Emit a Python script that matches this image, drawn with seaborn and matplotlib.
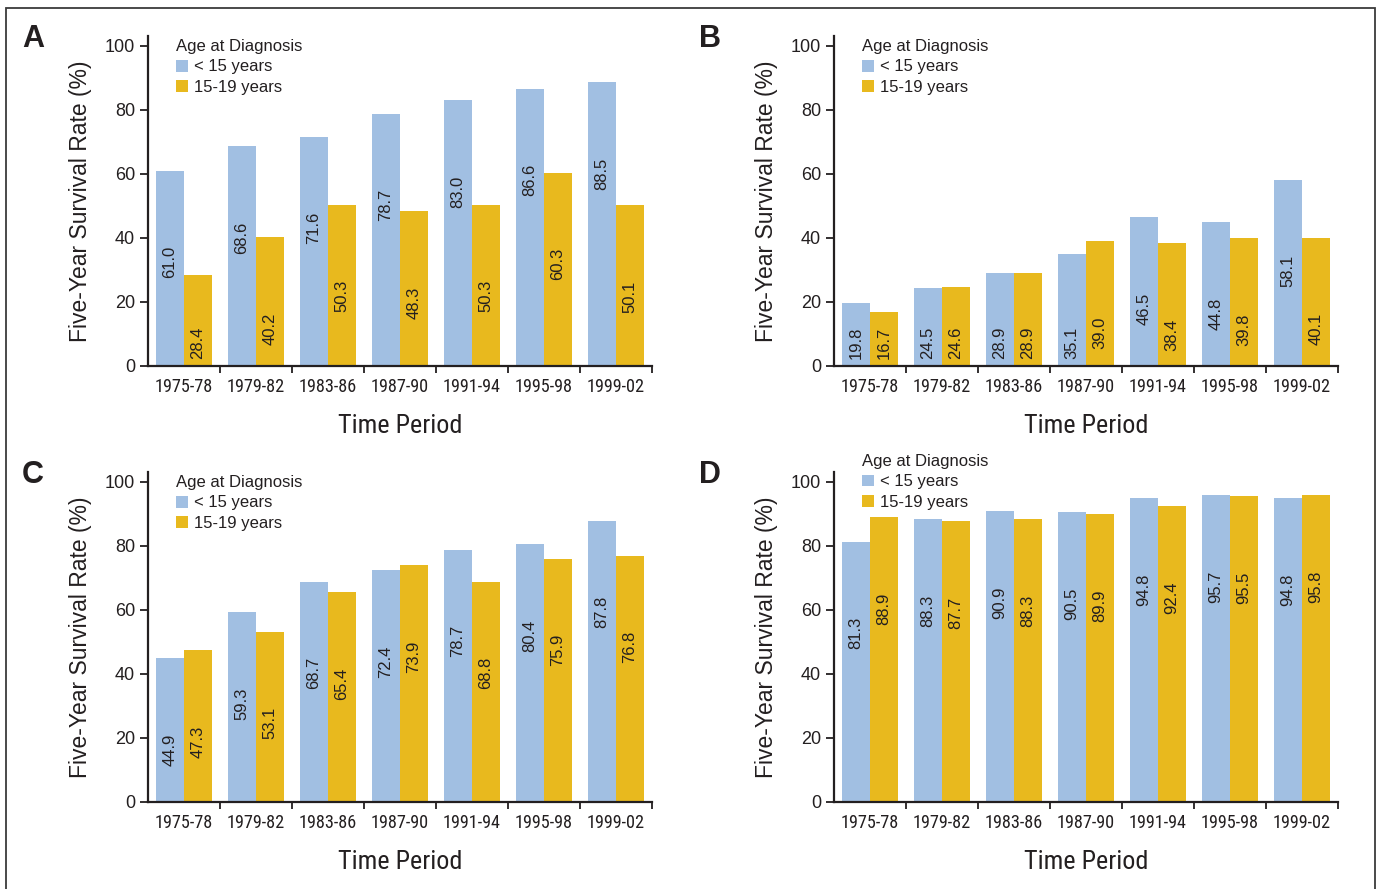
import os
import numpy as np
import pandas as pd
import seaborn as sns
import matplotlib
matplotlib.use("Agg")
import matplotlib.pyplot as plt
from matplotlib import font_manager
from matplotlib.font_manager import FontProperties
from matplotlib.patches import Rectangle, Patch
from matplotlib.textpath import TextPath
from matplotlib.ticker import FixedLocator, NullFormatter

# ---- data -----------------------------------------------------------------
periods = ["1975-78", "1979-82", "1983-86", "1987-90", "1991-94", "1995-98", "1999-02"]
age_groups = ["< 15 years", "15-19 years"]

a_under15 = [61.0, 68.6, 71.6, 78.7, 83.0, 86.6, 88.5]
a_15to19 = [28.4, 40.2, 50.3, 48.3, 50.3, 60.3, 50.1]

b_under15 = [19.8, 24.5, 28.9, 35.1, 46.5, 44.8, 58.1]
b_15to19 = [16.7, 24.6, 28.9, 39.0, 38.4, 39.8, 40.1]

c_under15 = [44.9, 59.3, 68.7, 72.4, 78.7, 80.4, 87.8]
c_15to19 = [47.3, 53.1, 65.4, 73.9, 68.8, 75.9, 76.8]

d_under15 = [81.3, 88.3, 90.9, 90.5, 94.8, 95.7, 94.8]
d_15to19 = [88.9, 87.7, 88.3, 89.9, 92.4, 95.5, 95.8]

y_ticks = [0, 20, 40, 60, 80, 100]

# ---- style ----------------------------------------------------------------
BLUE = "#a1bfe2"
GOLD = "#e8b91e"
INK = "#231f20"

sns.set_style("ticks")
plt.rcParams["font.family"] = ["Liberation Sans", "DejaVu Sans"]
plt.rcParams["text.color"] = INK
plt.rcParams["axes.labelcolor"] = INK
plt.rcParams["xtick.color"] = INK
plt.rcParams["ytick.color"] = INK

DPI = 100


def narrow_font():
    """Pick an installed condensed sans face for the period labels."""
    paths = [f.fname for f in font_manager.fontManager.ttflist]
    try:
        paths += font_manager.findSystemFonts()
    except Exception:
        pass
    names = {os.path.basename(p).lower(): p for p in paths}
    for key in ("liberationsansnarrow-regular.ttf", "robotocondensed-regular.ttf",
                "dejavusanscondensed.ttf"):
        if key in names:
            return FontProperties(fname=names[key])
    for base, p in names.items():
        if ("condensed" in base or "narrow" in base) and "bold" not in base \
                and "italic" not in base and "light" not in base:
            return FontProperties(fname=p)
    return FontProperties(family="Liberation Sans")


def size_for_width(text, prop, width_px):
    """Font size (pt) at which `text` is drawn `width_px` pixels wide."""
    w100 = TextPath((0, 0), text, size=100, prop=prop).get_extents().width
    return width_px * 72.0 / DPI * 100.0 / w100


narrow = narrow_font()
tick_size = size_for_width("1975-78", narrow, 56)
xlabel_size = size_for_width("Time Period", narrow, 122)

W, H = 1379, 889
fig = plt.figure(figsize=(W / DPI, H / DPI), dpi=DPI)

AX_W, AX_H = 504, 330  # pixel size of each panel's plotting area

panels = [
    # letter, series, zero-line origin (left px, baseline px), letter pos, legend anchor y
    ("A", a_under15, a_15to19, (148, 366), (22, 47), 0.991),
    ("B", b_under15, b_15to19, (834, 366), (699, 47), 0.991),
    ("C", c_under15, c_15to19, (148, 802), (22, 483), 0.991),
    ("D", d_under15, d_15to19, (834, 802), (699, 483), 1.055),
]

LABEL_DROP = 23.5     # label end sits this far (in %) below the bar top
LABEL_FLOOR = 2.3     # minimum gap between label and the zero line (in %)
LABEL_LEN = 9.8       # approximate rotated label length (in %)

for letter, under15, older, (x0, y0), (lx, ly), leg_y in panels:
    ax = fig.add_axes([x0 / W, (H - y0) / H, AX_W / W, AX_H / H])

    df = pd.DataFrame({
        "period": periods * 2,
        "age": [age_groups[0]] * len(periods) + [age_groups[1]] * len(periods),
        "rate": list(under15) + list(older),
    })

    sns.barplot(
        data=df, x="period", y="rate", hue="age",
        order=periods, hue_order=age_groups,
        palette=[BLUE, GOLD], saturation=1, width=0.78, gap=0,
        linewidth=0, edgecolor="none", legend=False, ax=ax,
    )

    # value labels written vertically inside each bar
    for container in ax.containers:
        for bar in container:
            h = bar.get_height()
            xc = bar.get_x() + bar.get_width() / 2
            if h - LABEL_DROP - LABEL_LEN < LABEL_FLOOR:
                ax.text(xc, LABEL_FLOOR, f"{h:.1f}", rotation=90, ha="center",
                        va="bottom", fontsize=12, color=INK)
            else:
                ax.text(xc, h - LABEL_DROP, f"{h:.1f}", rotation=90, ha="center",
                        va="top", fontsize=12, color=INK)

    ax.set_xlim(-0.5, len(periods) - 0.5)
    ax.set_ylim(0, 103)
    ax.set_yticks(y_ticks)
    ax.set_yticklabels([str(t) for t in y_ticks], fontsize=13)

    ax.set_xticks(range(len(periods)))
    ax.set_xticklabels(periods, fontproperties=narrow, fontsize=tick_size)
    ax.xaxis.set_minor_locator(FixedLocator(np.arange(0.5, len(periods), 1.0)))
    ax.xaxis.set_minor_formatter(NullFormatter())
    ax.tick_params(axis="x", which="major", length=0, pad=8.6)
    ax.tick_params(axis="x", which="minor", length=5.2, width=1.3, direction="out")
    ax.tick_params(axis="y", which="major", length=5.8, width=1.3, pad=3.6)

    for side in ("top", "right"):
        ax.spines[side].set_visible(False)
    for side in ("left", "bottom"):
        ax.spines[side].set_linewidth(1.6)
        ax.spines[side].set_color(INK)

    ax.set_xlabel("Time Period", fontproperties=narrow, fontsize=xlabel_size)
    ax.xaxis.set_label_coords(0.5, -0.145)
    ax.set_ylabel("Five-Year Survival Rate (%)", fontsize=16.5)
    ax.yaxis.set_label_coords(-0.111, 0.5)

    handles = [Patch(facecolor=BLUE, edgecolor="none"),
               Patch(facecolor=GOLD, edgecolor="none")]
    ax.legend(handles, age_groups, title="Age at Diagnosis", loc="upper left",
              bbox_to_anchor=(28 / AX_W, leg_y), frameon=False, fontsize=12,
              title_fontsize=12, handlelength=0.72, handleheight=0.72,
              handletextpad=0.36, labelspacing=0.33, borderpad=0,
              borderaxespad=0, alignment="left")

    fig.text(lx / W, 1 - ly / H, letter, fontsize=22, fontweight="bold",
             ha="left", va="baseline", color=INK)

# thin frame around the whole figure
fig.add_artist(Rectangle((6 / W, -0.01), (1375 - 6) / W, 1 - 8 / H + 0.01,
                         transform=fig.transFigure, fill=False,
                         linewidth=1.3, edgecolor="#3a3a3a"))

fig.savefig("out.png", dpi=DPI)
